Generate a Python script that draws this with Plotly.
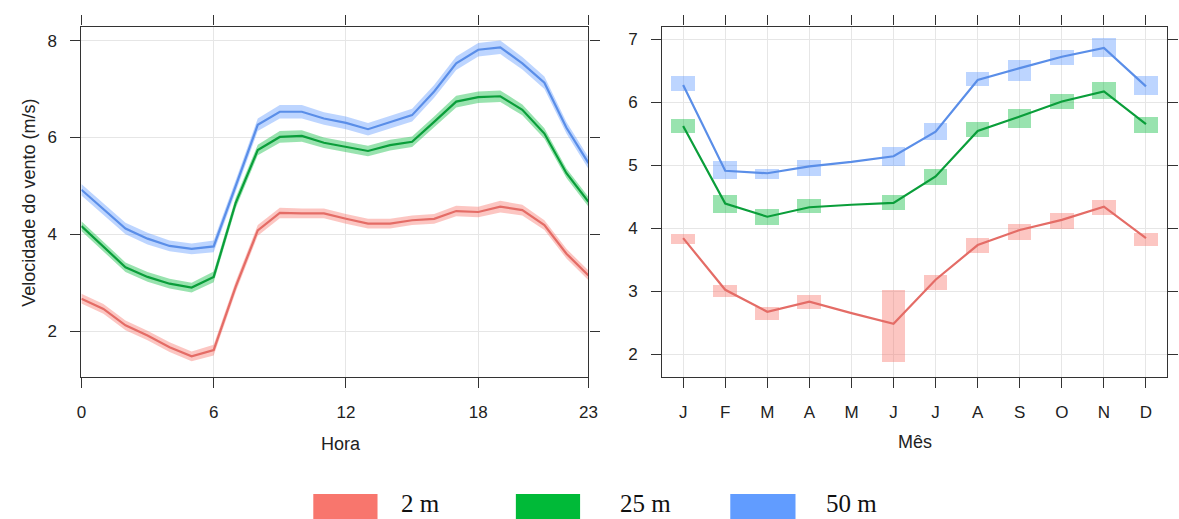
import plotly.graph_objects as go

# ---- hourly profile (left panel) ----
hours = list(range(24))
hour_ticks = [0, 6, 12, 18, 23]

red_hour = [2.67, 2.46, 2.12, 1.91, 1.67, 1.48, 1.61, 2.92, 4.08, 4.44, 4.43, 4.43,
            4.32, 4.22, 4.22, 4.29, 4.32, 4.48, 4.46, 4.57, 4.50, 4.19, 3.60, 3.15]
green_hour = [4.17, 3.74, 3.32, 3.12, 2.98, 2.90, 3.12, 4.65, 5.74, 6.01, 6.03, 5.89,
              5.81, 5.72, 5.84, 5.91, 6.32, 6.74, 6.83, 6.85, 6.57, 6.08, 5.26, 4.67]
blue_hour = [4.92, 4.53, 4.12, 3.91, 3.76, 3.70, 3.75, 5.00, 6.26, 6.53, 6.53, 6.39,
             6.30, 6.17, 6.32, 6.46, 6.95, 7.53, 7.81, 7.86, 7.53, 7.13, 6.20, 5.47]

# half-width of the 95% confidence band for each hour
red_hour_ci = [0.10, 0.10, 0.10, 0.10, 0.10, 0.10, 0.11, 0.11, 0.11, 0.11, 0.10, 0.10,
               0.10, 0.10, 0.10, 0.10, 0.10, 0.11, 0.11, 0.12, 0.11, 0.10, 0.10, 0.10]
green_hour_ci = [0.10, 0.10, 0.10, 0.10, 0.10, 0.10, 0.11, 0.11, 0.11, 0.12, 0.12, 0.11,
                 0.11, 0.11, 0.11, 0.11, 0.11, 0.12, 0.12, 0.12, 0.11, 0.11, 0.10, 0.10]
blue_hour_ci = [0.12, 0.12, 0.12, 0.12, 0.11, 0.11, 0.12, 0.12, 0.13, 0.14, 0.14, 0.13,
                0.13, 0.13, 0.13, 0.13, 0.13, 0.14, 0.14, 0.14, 0.13, 0.13, 0.12, 0.12]

# ---- monthly profile (right panel) ----
months = list(range(1, 13))
month_labels = ["J", "F", "M", "A", "M", "J", "J", "A", "S", "O", "N", "D"]

red_month = [3.84, 3.02, 2.67, 2.83, 2.65, 2.48, 3.18, 3.73, 3.97, 4.13, 4.34, 3.84]
red_month_lo = [3.76, 2.92, 2.55, 2.73, None, 1.88, 3.02, 3.61, 3.82, 4.00, 4.21, 3.72]
red_month_hi = [3.92, 3.10, 2.75, 2.94, None, 3.02, 3.26, 3.85, 4.08, 4.24, 4.45, 3.93]

green_month = [5.62, 4.39, 4.18, 4.33, 4.37, 4.40, 4.82, 5.54, 5.77, 6.01, 6.17, 5.65]
green_month_lo = [5.51, 4.24, 4.05, 4.24, None, 4.29, 4.69, 5.45, 5.59, 5.90, 6.06, 5.52]
green_month_hi = [5.74, 4.53, 4.31, 4.47, None, 4.53, 4.95, 5.69, 5.90, 6.14, 6.33, 5.77]

blue_month = [6.27, 4.91, 4.87, 4.98, 5.05, 5.14, 5.53, 6.35, 6.54, 6.72, 6.86, 6.25]
blue_month_lo = [6.18, 4.78, 4.79, 4.84, None, 5.00, 5.40, 6.26, 6.35, 6.59, 6.72, 6.12]
blue_month_hi = [6.42, 5.08, 4.95, 5.09, None, 5.29, 5.67, 6.49, 6.67, 6.83, 7.02, 6.43]

series_names = ["2 m", "25 m", "50 m"]
series_colors = ["#F8766D", "#00BA38", "#619CFF"]
line_colors = ["#E46C66", "#0A9E3A", "#5A8EE8"]
band_colors = ["rgba(248,118,109,0.42)", "rgba(0,186,56,0.40)", "rgba(97,156,255,0.42)"]

hour_data = [(red_hour, red_hour_ci), (green_hour, green_hour_ci), (blue_hour, blue_hour_ci)]
month_data = [(red_month, red_month_lo, red_month_hi),
              (green_month, green_month_lo, green_month_hi),
              (blue_month, blue_month_lo, blue_month_hi)]

fig = go.Figure()

# hourly confidence bands and mean lines
for (mean, ci), lc, bc in zip(hour_data, line_colors, band_colors):
    upper = [m + c for m, c in zip(mean, ci)]
    lower = [m - c for m, c in zip(mean, ci)]
    fig.add_trace(go.Scatter(x=hours, y=upper, mode="lines", line=dict(width=0),
                             hoverinfo="skip", showlegend=False, xaxis="x", yaxis="y"))
    fig.add_trace(go.Scatter(x=hours, y=lower, mode="lines", line=dict(width=0),
                             fill="tonexty", fillcolor=bc, hoverinfo="skip",
                             showlegend=False, xaxis="x", yaxis="y"))
for (mean, ci), lc in zip(hour_data, line_colors):
    fig.add_trace(go.Scatter(x=hours, y=mean, mode="lines", line=dict(color=lc, width=2.2),
                             showlegend=False, xaxis="x", yaxis="y"))

# monthly confidence boxes and mean lines
for (mean, lo, hi), bc in zip(month_data, band_colors):
    heights = [None if (a is None or b is None) else b - a for a, b in zip(lo, hi)]
    fig.add_trace(go.Bar(x=months, y=heights, base=lo, width=0.56,
                         marker=dict(color=bc, line=dict(width=0)),
                         showlegend=False, xaxis="x2", yaxis="y2"))
for (mean, lo, hi), lc in zip(month_data, line_colors):
    fig.add_trace(go.Scatter(x=months, y=mean, mode="lines", line=dict(color=lc, width=2.2),
                             showlegend=False, xaxis="x2", yaxis="y2"))

W, H = 1179, 519
axis_common = dict(
    showline=True, linecolor="#333333", linewidth=1.2, mirror="allticks",
    ticks="outside", ticklen=10, tickwidth=1, tickcolor="#333333",
    showgrid=True, gridcolor="#e6e6e6", gridwidth=1, zeroline=False,
    tickfont=dict(family="Liberation Sans, Arial, sans-serif", size=17, color="#222222"),
    ticklabelstandoff=10,
)
ydom = [1 - 376.7 / H, 1 - 26.5 / H]

fig.update_layout(
    width=W, height=H, autosize=False,
    margin=dict(l=0, r=0, t=0, b=0),
    paper_bgcolor="white", plot_bgcolor="white",
    barmode="overlay", bargap=0,
    showlegend=False,
    xaxis=dict(domain=[77.3 / W, 590.5 / W], range=[0, 23],
               tickvals=hour_ticks, ticktext=[str(t) for t in hour_ticks], **axis_common),
    yaxis=dict(domain=ydom, range=[1.06, 8.29], tickvals=[2, 4, 6, 8], **axis_common),
    xaxis2=dict(domain=[665 / W, 1176 / W], range=[0.5, 12.5], anchor="y2",
                tickvals=months, ticktext=month_labels, **axis_common),
    yaxis2=dict(domain=ydom, range=[1.64, 7.20], anchor="x2",
                tickvals=[2, 3, 4, 5, 6, 7], **axis_common),
)

title_font = dict(family="Liberation Sans, Arial, sans-serif", size=18, color="#222222")
fig.add_annotation(text="Hora", x=340 / W, y=1 - 444 / H, xref="paper", yref="paper",
                   xanchor="center", yanchor="middle", showarrow=False, font=title_font)
fig.add_annotation(text="Mês", x=921 / W, y=1 - 442 / H, xref="paper", yref="paper",
                   xanchor="center", yanchor="middle", showarrow=False, font=title_font)
fig.add_annotation(text="Velocidade do vento (m/s)", x=24 / W, y=1 - 203 / H,
                   xref="paper", yref="paper", xanchor="center", yanchor="middle",
                   showarrow=False, textangle=-90, font=title_font)

# key below the panels
key_rects = [(312, 377), (517, 582), (734, 800)]
key_text_x = [400, 621, 830]
for (x0, x1), tx, name, col in zip(key_rects, key_text_x, series_names, series_colors):
    fig.add_shape(type="rect", xref="paper", yref="paper",
                  x0=x0 / W, x1=x1 / W, y0=-0.02, y1=1 - 494 / H,
                  fillcolor=col, line=dict(width=0))
    fig.add_annotation(text=name, x=tx / W, y=1 - 503 / H, xref="paper", yref="paper",
                       xanchor="left", yanchor="middle", showarrow=False, borderpad=0,
                       font=dict(family="Liberation Serif, Times New Roman, serif",
                                 size=25, color="#111111"))

fig.write_html("out.html")
